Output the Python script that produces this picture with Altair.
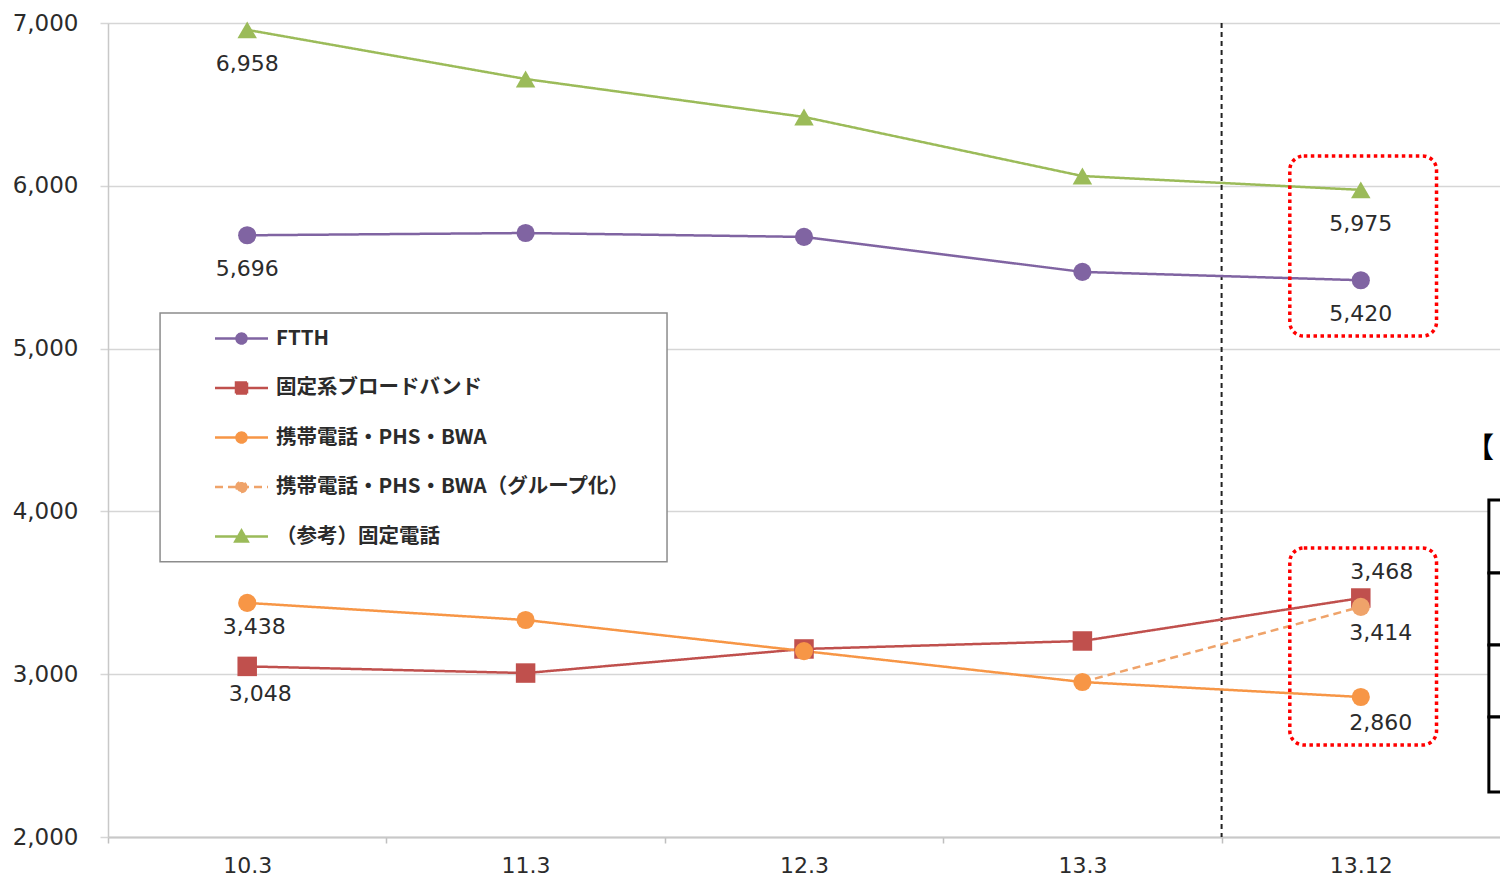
import json
import altair as alt
import pandas as pd

# ---------------- data ----------------
categories = ["10.3", "11.3", "12.3", "13.3", "13.12"]
series_names = ["FTTH", "固定系ブロードバンド", "携帯電話・PHS・BWA",
                "携帯電話・PHS・BWA（グループ化）", "（参考）固定電話"]
ftth = [5696, 5710, 5686, 5471, 5420]
fixed_broadband = [3048, 3007, 3155, 3204, 3468]
mobile = [3438, 3333, 3142, 2952, 2860]
mobile_grouped = [None, None, None, 2952, 3414]
fixed_phone = [6958, 6656, 6423, 6060, 5975]
series_values = [ftth, fixed_broadband, mobile, mobile_grouped, fixed_phone]

# data labels: which series / category is labelled, and where the label sits
label_series = [4, 0, 2, 1, 4, 0, 1, 3, 2]
label_category = [0, 0, 0, 0, 4, 4, 4, 4, 4]
label_place = ["below", "below", "below_a", "below_b",
               "below", "below", "above_r", "below_r", "below_r"]

# annotations, in data units (category index / value)
divider_at = [3.5]
highlight_x = [[3.745, 4.272], [3.745, 4.272]]
highlight_y = [[6183, 5077], [3775, 2565]]
legend_box_x = [-0.313, 1.508]
legend_box_y = [5219, 3690]
side_table_x = [4.46, 4.9]
side_table_rows = [4070, 3622, 3179, 2737, 2276]
side_title_pos = [4.378, 4377]

# ---------------- styles ----------------
series_colors = ["#8064A2", "#C0504D", "#F79646", "#EFA36A", "#9BBB59"]
series_dash = [[1, 0], [1, 0], [1, 0], [8, 5], [1, 0]]
legend_paths = [
    "M-2.65,0H2.65M0.5,0A0.5,0.5,0,1,1,-0.5,0A0.5,0.5,0,1,1,0.5,0Z",
    "M-2.65,0H2.65M-0.55,-0.55H0.55V0.55H-0.55Z",
    "M-2.65,0H2.65M0.5,0A0.5,0.5,0,1,1,-0.5,0A0.5,0.5,0,1,1,0.5,0Z",
    "M-2.65,0H2.65M0.5,0A0.5,0.5,0,1,1,-0.5,0A0.5,0.5,0,1,1,0.5,0Z",
    "M-2.65,0H2.65M0,-0.6L0.62,0.5H-0.62Z",
]
offsets = {"below": (0, 34), "below_a": (7, 24), "below_b": (13, 28),
           "above_r": (21, -26), "below_r": (20, 26)}

W, H = 1392, 814
step_px = W / len(categories)

# ---------------- tables ----------------
rows = []
for name, vals in zip(series_names, series_values):
    for i, v in enumerate(vals):
        if v is not None:
            rows.append({"series": name, "idx": i, "value": v})
df = pd.DataFrame(rows)

lab_rows = []
for s, c, p in zip(label_series, label_category, label_place):
    v = series_values[s][c]
    lab_rows.append({"series": series_names[s], "idx": c, "value": v,
                     "text": f"{v:,}", "place": p})
df_lab = pd.DataFrame(lab_rows)

df_div = pd.DataFrame({"idx": divider_at})
df_box = pd.DataFrame({"idx": [x[0] for x in highlight_x], "idx2": [x[1] for x in highlight_x],
                       "value": [y[0] for y in highlight_y], "value2": [y[1] for y in highlight_y]})
df_legbox = pd.DataFrame({"idx": [legend_box_x[0]], "idx2": [legend_box_x[1]],
                          "value": [legend_box_y[0]], "value2": [legend_box_y[1]]})
df_tab = pd.DataFrame({"idx": [side_table_x[0]] * (len(side_table_rows) - 1),
                       "idx2": [side_table_x[1]] * (len(side_table_rows) - 1),
                       "value": side_table_rows[:-1], "value2": side_table_rows[1:]})
df_tt = pd.DataFrame({"idx": [side_title_pos[0]], "value": [side_title_pos[1]], "text": ["【"]})
df_leg = pd.DataFrame({"series": series_names})

# ---------------- encodings ----------------
X_SCALE = alt.Scale(domain=[-0.5, len(categories) - 0.5], nice=False, zero=False)
Y_SCALE = alt.Scale(domain=[2000, 7000], nice=False, zero=False)
X_AXIS = alt.Axis(values=[i - 0.5 for i in range(len(categories))],
                  labelExpr=f"{json.dumps(categories)}[floor(datum.value + 1)]",
                  labelOffset=step_px / 2, title=None, grid=False,
                  tickSize=6, tickColor="#bfbfbf", tickWidth=1.5,
                  domainColor="#c8c8c8", domainWidth=2,
                  labelFont="DejaVu Sans", labelFontSize=22, labelColor="#2b2b2b",
                  labelPadding=12, labelFlush=False, labelOverlap=False, labelBound=False)
Y_AXIS = alt.Axis(values=list(range(2000, 7001, 1000)), format=",d", title=None,
                  grid=True, gridColor="#d6d6d6", gridWidth=1.5,
                  domainColor="#c8c8c8", domainWidth=1.5,
                  tickColor="#d6d6d6", tickSize=8, tickWidth=1.5,
                  labelFont="DejaVu Sans", labelFontSize=23, labelColor="#2b2b2b",
                  labelPadding=22)

X = alt.X("idx:Q", scale=X_SCALE, axis=X_AXIS)
Y = alt.Y("value:Q", scale=Y_SCALE, axis=Y_AXIS)
X2 = alt.X2("idx2:Q")
Y2 = alt.Y2("value2:Q")
COLOR_SCALE = alt.Scale(domain=series_names, range=series_colors)
DASH_SCALE = alt.Scale(domain=series_names, range=series_dash)

LEG = alt.Legend(title=None)

# legend-only layer (no rows drawn)
legend_layer = alt.Chart(df_leg).mark_point(filled=True, size=400, strokeWidth=2.5, opacity=1).encode(
    color=alt.Color("series:N", scale=COLOR_SCALE, sort=series_names, legend=LEG),
    stroke=alt.Stroke("series:N", scale=COLOR_SCALE, sort=series_names, legend=LEG),
    shape=alt.Shape("series:N", scale=alt.Scale(domain=series_names, range=legend_paths),
                    sort=series_names, legend=LEG),
    strokeDash=alt.StrokeDash("series:N", scale=DASH_SCALE, sort=series_names, legend=LEG),
).transform_filter("false")

side_table = alt.Chart(df_tab).mark_rect(fill="white", stroke="black", strokeWidth=3).encode(
    x=X, x2=X2, y=Y, y2=Y2)
side_title = alt.Chart(df_tt).mark_text(font="Noto Sans CJK JP", fontSize=28, fontWeight="bold",
                                        align="left", baseline="middle", color="black").encode(
    x=X, y=Y, text="text:N")

divider = alt.Chart(df_div).mark_rule(color="#222222", strokeWidth=2, strokeDash=[5, 4]).encode(x=X)

legend_frame = alt.Chart(df_legbox).mark_rect(fill="white", stroke="#8c8c8c", strokeWidth=1.5).encode(
    x=X, x2=X2, y=Y, y2=Y2)

lines = alt.Chart(df).mark_line(strokeWidth=2.5).encode(
    x=X, y=Y,
    color=alt.Color("series:N", scale=COLOR_SCALE, legend=None),
    strokeDash=alt.StrokeDash("series:N", scale=DASH_SCALE, legend=None),
    detail="series:N",
)


def markers(shape, size, names):
    cond = " || ".join(f"datum.series == {json.dumps(n)}" for n in names)
    return alt.Chart(df).mark_point(filled=True, shape=shape, size=size, opacity=1,
                                    strokeWidth=0).encode(
        x=X, y=Y, color=alt.Color("series:N", scale=COLOR_SCALE, legend=None)
    ).transform_filter(cond)


m_square = markers("square", 380, [series_names[1]])
m_tri = markers("triangle-up", 380, [series_names[4]])
m_circle = markers("circle", 330, [series_names[0], series_names[2]])
m_group = markers("circle", 330, [series_names[3]]).transform_filter(
    f"datum.idx == {len(categories) - 1}")

label_layers = []
for place, (dx, dy) in offsets.items():
    label_layers.append(
        alt.Chart(df_lab).mark_text(font="DejaVu Sans", fontSize=22, color="#2b2b2b",
                                    dx=dx, dy=dy, baseline="middle", align="center").encode(
            x=X, y=Y, text="text:N"
        ).transform_filter(f"datum.place == '{place}'")
    )

boxes = alt.Chart(df_box).mark_rect(fillOpacity=0, stroke="#ff0000", strokeWidth=3.5,
                                    strokeDash=[3.5, 3.5], cornerRadius=14).encode(
    x=X, x2=X2, y=Y, y2=Y2)

chart = alt.layer(
    legend_layer, side_table, side_title, divider, legend_frame, lines,
    m_square, m_tri, m_circle, m_group, *label_layers, boxes,
).properties(
    width=W, height=H,
    padding={"left": 108, "top": 23, "right": 0, "bottom": 39},
    autosize=alt.AutoSizeParams(type="none"),
).configure_view(stroke=None).configure_legend(
    orient="none", legendX=52, legendY=290, padding=14, rowPadding=27.5,
    symbolSize=400, symbolStrokeWidth=2.5, symbolOffset=56, labelOffset=23,
    labelFont="Noto Sans CJK JP", labelFontSize=20.5, labelFontWeight="bold",
    labelColor="#2b2b2b", labelLimit=700,
)

chart.save("out.html", embed_options={"renderer": "svg", "actions": False})
